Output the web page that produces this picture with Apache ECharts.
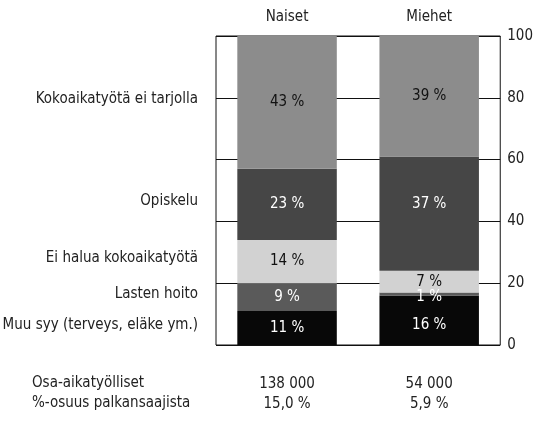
<!DOCTYPE html>
<html>
<head>
<meta charset="utf-8">
<script src="https://cdn.jsdelivr.net/npm/echarts@6/dist/echarts.min.js"></script>
<style>
  html, body { margin: 0; padding: 0; background: #fff; }
  #chart-container { width: 536px; height: 423px; }
</style>
</head>
<body>
<div id="chart-container"></div>
<script>
var dom = document.getElementById("chart-container");
var myChart = echarts.init(dom, null, { renderer: "canvas" });

var FONT = '"Liberation Sans Narrow", "DejaVu Sans Condensed", "Liberation Sans", sans-serif';

// groups and reasons (bottom to top of the stack)
const groups = ["Naiset", "Miehet"];
const reasons = [
  "Muu syy (terveys, eläke ym.)",
  "Lasten hoito",
  "Ei halua kokoaikatyötä",
  "Opiskelu",
  "Kokoaikatyötä ei tarjolla"
];
// shares in % per reason, [Naiset, Miehet]
const muuSyy = [11, 16];
const lastenHoito = [9, 1];
const eiHalua = [14, 7];
const opiskelu = [23, 37];
const eiTarjolla = [43, 39];
// table under the chart
const rowTitles = ["Osa-aikatyölliset", "%-osuus palkansaajista"];
const osaAikaiset = ["138 000", "54 000"];
const osuudet = ["15,0 %", "5,9 %"];

const values = [muuSyy, lastenHoito, eiHalua, opiskelu, eiTarjolla];
const fills = ["#080808", "#5a5a5a", "#d2d2d2", "#464646", "#8c8c8c"];
const textColors = ["#fff", "#fff", "#111", "#fff", "#111"];
// small nudges of the value labels, [Naiset, Miehet] per reason
const labelNudge = [[0, 5], [0, 3], [0, 0], [0, -10], [0, 0]];

var base = 0;
var series = reasons.map(function (name, i) {
  var mid = base + values[i][0] / 2;
  base += values[i][0];
  return {
    name: name,
    type: "bar",
    stack: "total",
    barWidth: "70%",
    data: values[i].map(function (v, j) {
      return { value: v, label: { offset: [0, labelNudge[i][j]] } };
    }),
    itemStyle: { color: fills[i] },
    label: {
      show: true,
      position: "inside",
      formatter: "{c} %",
      color: textColors[i],
      fontFamily: FONT,
      fontSize: 15
    },
    markPoint: {
      symbol: "circle",
      symbolSize: 0,
      silent: true,
      data: [{ coord: [0, mid] }],
      label: {
        show: true,
        position: "left",
        distance: 89,
        offset: [0, -3],
        formatter: name,
        color: "#222",
        fontFamily: FONT,
        fontSize: 15
      }
    }
  };
});

var option = {
  backgroundColor: "#fff",
  animation: false,
  textStyle: { fontFamily: FONT },
  grid: {
    left: 216,
    right: 31,
    top: 36,
    bottom: 78,
    show: true,
    borderColor: "#111",
    borderWidth: 1
  },
  xAxis: [
    {
      type: "category",
      position: "top",
      data: groups,
      axisLine: { show: false },
      axisTick: { show: false },
      axisLabel: { color: "#222", fontSize: 15, fontFamily: FONT, margin: 11 }
    },
    {
      type: "category",
      position: "bottom",
      data: groups,
      axisLine: { show: false },
      axisTick: { show: false },
      axisLabel: {
        color: "#222",
        fontSize: 15,
        fontFamily: FONT,
        margin: 29,
        lineHeight: 20,
        formatter: function (v, idx) {
          return osaAikaiset[idx] + "\n" + osuudet[idx];
        }
      }
    }
  ],
  yAxis: {
    type: "value",
    position: "right",
    min: 0,
    max: 100,
    interval: 20,
    axisLine: { show: false },
    axisTick: { show: false },
    axisLabel: { color: "#222", fontSize: 15, fontFamily: FONT, margin: 7 },
    splitLine: { lineStyle: { color: "#111", width: 1 } }
  },
  graphic: [
    {
      type: "text",
      left: 32,
      top: 373,
      style: {
        text: rowTitles.join("\n"),
        fill: "#222",
        font: "15px " + FONT,
        lineHeight: 20
      }
    }
  ],
  series: series
};

myChart.setOption(option);
window.addEventListener("resize", myChart.resize);
</script>
</body>
</html>
